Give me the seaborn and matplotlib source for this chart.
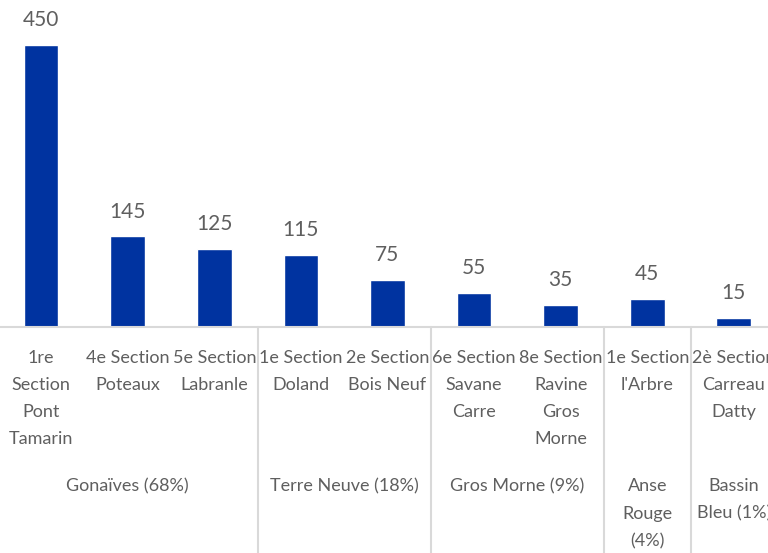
import matplotlib
matplotlib.use('Agg')
import matplotlib.pyplot as plt
import seaborn as sns
import pandas as pd
import numpy as np

# Données
sections = ["1re\nSection\nPont\nTamarin", "4e Section\nPoteaux", "5e Section\nLabranle",
            "1e Section\nDoland", "2e Section\nBois Neuf", "6e Section\nSavane\nCarre",
            "8e Section\nRavine\nGros\nMorne", "1e Section\nl'Arbre", "2è Section\nCarreau\nDatty"]
valeurs = [450, 145, 125, 115, 75, 55, 35, 45, 15]
communes = ["Gonaïves (68%)", "Terre Neuve (18%)", "Gros Morne (9%)",
            "Anse\nRouge\n(4%)", "Bassin\nBleu (1%)"]
nb_sections = [3, 2, 2, 1, 1]

df = pd.DataFrame({'section': sections, 'valeur': valeurs})

sns.set_style('white')
plt.rcParams['font.family'] = ['Lato', 'DejaVu Sans']
gris = '#5f5f5f'

fig = plt.figure(figsize=(7.68, 5.53), dpi=100)
ax = fig.add_axes([0, 0.4087, 1, 0.5913])

sns.barplot(data=df, x='section', y='valeur', color='#0033A0', saturation=1,
            width=0.4, ax=ax)

ax.set_xlim(-0.475, 8.395)
ax.set_ylim(0, 521.6)
ax.set_xlabel('')
ax.set_ylabel('')
ax.tick_params(bottom=False, left=False, labelbottom=False, labelleft=False)
for s in ['top', 'left', 'right']:
    ax.spines[s].set_visible(False)
ax.spines['bottom'].set_color('#d9d9d9')
ax.spines['bottom'].set_linewidth(1.5)

# étiquettes de valeurs
for i, v in enumerate(valeurs):
    ax.annotate(str(v), xy=(i, v), xytext=(0, 10.5), textcoords='offset points',
                ha='center', va='bottom', fontsize=15, color=gris)

# premier niveau : sections
xtr = ax.get_xaxis_transform()
for i, lab in enumerate(sections):
    ax.annotate(lab, xy=(i, 0), xycoords=xtr, xytext=(0, -16.5),
                textcoords='offset points', ha='center', va='top',
                fontsize=13, color=gris, linespacing=1.86, annotation_clip=False)

# second niveau : communes + séparateurs
bornes = np.cumsum(nb_sections)
debuts = bornes - np.array(nb_sections)
for nom, d, b in zip(communes, debuts, bornes):
    centre = (d + b - 1) / 2
    ax.annotate(nom, xy=(centre, 0), xycoords=xtr, xytext=(0, -109),
                textcoords='offset points', ha='center', va='top',
                fontsize=13, color=gris, linespacing=1.86, annotation_clip=False)
for b in bornes[:-1]:
    ax.plot([b - 0.5, b - 0.5], [0, -1], transform=xtr, color='#d9d9d9',
            lw=1.5, clip_on=False)

fig.savefig('out.png', dpi=100)
